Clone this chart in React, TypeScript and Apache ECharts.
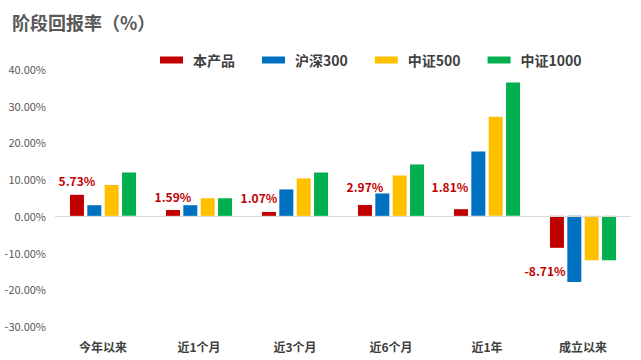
import React, { useEffect, useRef } from "react";
import * as echarts from "echarts";

const categories = ["今年以来", "近1个月", "近3个月", "近6个月", "近1年", "成立以来"];
const seriesNames = ["本产品", "沪深300", "中证500", "中证1000"];
const product = [5.73, 1.59, 1.07, 2.97, 1.81, -8.71];
const hs300 = [2.9, 2.9, 7.2, 6.1, 17.5, -18.0];
const zz500 = [8.4, 4.8, 10.2, 11.0, 27.0, -12.1];
const zz1000 = [11.8, 4.8, 11.8, 14.0, 36.3, -12.1];
const colors = ["#C00000", "#0070C0", "#FFC000", "#00B050"];
const labelOffsets = [[0, 0], [0, 0], [-10, 0], [0, -4], [-11, -9], [-12, 0]];

const FONT = "'Noto Sans CJK SC', 'Noto Sans', sans-serif";

export default function App() {
  const ref = useRef<HTMLDivElement>(null);
  useEffect(() => {
    document.body.style.margin = "0";
    if (!ref.current) return;
    const chart = echarts.init(ref.current, null, { renderer: "svg" });
    const all = [product, hs300, zz500, zz1000];
    chart.setOption({
      animation: false,
      backgroundColor: "#ffffff",
      title: {
        text: "阶段回报率（%）",
        left: 7,
        top: 8,
        textStyle: { fontFamily: FONT, fontSize: 18, fontWeight: "bold", color: "#595959" },
      },
      legend: {
        top: 48,
        left: 155,
        itemWidth: 23,
        itemHeight: 7,
        itemGap: 27,
        icon: "rect",
        textStyle: { fontFamily: FONT, fontSize: 14, fontWeight: "bold", color: "#404040", padding: [0, 0, 0, 5] },
        data: seriesNames,
      },
      grid: { left: 55, right: 10, top: 69, bottom: 34 },
      xAxis: {
        type: "category",
        data: categories,
        axisLine: { show: false, onZero: false },
        axisTick: { show: false },
        axisLabel: { fontFamily: FONT, fontSize: 12, fontWeight: "bold", color: "#404040", margin: 14 },
      },
      yAxis: {
        type: "value",
        min: -30,
        max: 40,
        interval: 10,
        splitLine: { show: false },
        axisLine: { show: false },
        axisTick: { show: false },
        axisLabel: {
          fontFamily: FONT,
          fontSize: 11,
          color: "#595959",
          margin: 9,
          formatter: (v: number) => v.toFixed(2) + "%",
        },
      },
      series: all.map((d, i) => ({
        name: seriesNames[i],
        type: "bar",
        barWidth: 14,
        barGap: "24%",
        itemStyle: { color: colors[i] },
        data:
          i === 0
            ? d.map((v, j) =>
                v < 0
                  ? { value: v, label: { position: "bottom", distance: 17, offset: labelOffsets[j] } }
                  : { value: v, label: { offset: labelOffsets[j] } }
              )
            : d,
        label:
          i === 0
            ? {
                show: true,
                position: "top",
                distance: 8,
                fontFamily: FONT,
                fontSize: 12,
                fontWeight: "bold",
                color: "#C00000",
                formatter: (p: any) => Number(p.value).toFixed(2) + "%",
              }
            : { show: false },
        markLine:
          i === 0
            ? {
                silent: true,
                symbol: "none",
                label: { show: false },
                lineStyle: { color: "#D9D9D9", type: "solid", width: 1 },
                data: [{ yAxis: 0 }],
              }
            : undefined,
      })),
    });
    return () => chart.dispose();
  }, []);
  return <div ref={ref} style={{ width: 641, height: 360 }} />;
}
